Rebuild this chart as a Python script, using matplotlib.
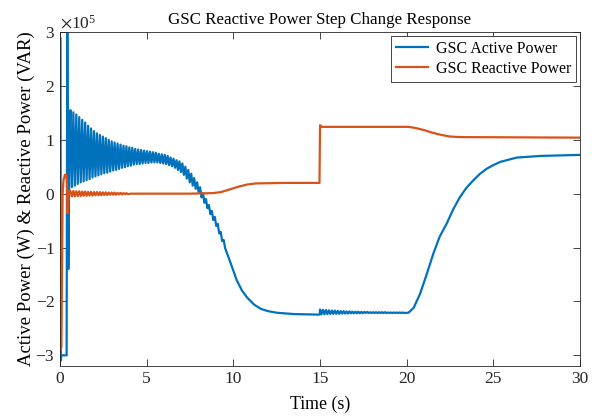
import numpy as np
import matplotlib
matplotlib.use("Agg")
import matplotlib.pyplot as plt

plt.rcParams['font.family'] = ['Liberation Serif', 'DejaVu Serif']
plt.rcParams['mathtext.fontset'] = 'stix'
plt.rcParams['axes.unicode_minus'] = False

SCALE = 1e5  # values below are read in units of 1e5

# ---- GSC active power (blue) ----
# start-up transient
p_start_t = [0.0, 0.01, 0.05, 0.08, 0.38, 0.42, 0.48, 0.55]
p_start_v = [0.0, 2.90, -3.10, -3.00, -3.00, 3.30, -1.40, 1.00]

# oscillation peaks (period ~0.17 s) starting at 0.60 s
osc_t0 = 0.60
osc_period = 0.17
p_osc_hi = [1.55, 1.51, 1.47, 1.42, 1.37, 1.32, 1.26, 1.21, 1.16, 1.12,
            1.09, 1.06, 1.03, 1.00, 0.97, 0.95, 0.93, 0.91, 0.89, 0.88,
            0.86, 0.85, 0.83, 0.82, 0.81, 0.80, 0.79, 0.78, 0.77, 0.76,
            0.74, 0.73, 0.72, 0.70, 0.67, 0.65, 0.62, 0.60, 0.56, 0.50,
            0.44, 0.37, 0.29, 0.21, 0.12, 0.01, -0.10, -0.21, -0.32, -0.43,
            -0.56, -0.71, -0.86]
p_osc_lo = [0.12, 0.15, 0.18, 0.21, 0.23, 0.25, 0.27, 0.30, 0.32, 0.34,
            0.36, 0.38, 0.39, 0.41, 0.43, 0.44, 0.46, 0.48, 0.49, 0.51,
            0.52, 0.54, 0.55, 0.55, 0.56, 0.57, 0.57, 0.58, 0.58, 0.58,
            0.57, 0.56, 0.55, 0.53, 0.51, 0.48, 0.44, 0.40, 0.35, 0.28,
            0.21, 0.15, 0.09, 0.03, -0.07, -0.17, -0.27, -0.38, -0.49, -0.60,
            -0.74, -0.88, -1.01]

# decline to the plateau
p_mid_t = [9.8, 10.2, 10.5, 10.8, 11.2, 11.6, 12.0, 12.5, 13.5, 14.98]
p_mid_v = [-1.25, -1.61, -1.80, -1.93, -2.06, -2.14, -2.18, -2.21, -2.235, -2.245]

# ripple after the reactive step at 15 s
rip_t0 = 15.0
p_rip_hi = [-2.15, -2.155, -2.16, -2.165, -2.17, -2.17, -2.175, -2.18, -2.18, -2.185,
            -2.185, -2.19, -2.19, -2.19, -2.195, -2.195, -2.195, -2.20, -2.20, -2.20,
            -2.20, -2.20, -2.20, -2.205, -2.205, -2.205, -2.205, -2.205, -2.205]
p_rip_lo = [-2.24, -2.24, -2.235, -2.235, -2.23, -2.23, -2.23, -2.225, -2.225, -2.225,
            -2.22, -2.22, -2.22, -2.22, -2.22, -2.215, -2.215, -2.215, -2.215, -2.215,
            -2.215, -2.215, -2.215, -2.215, -2.215, -2.215, -2.215, -2.215, -2.215]

# recovery after 20 s
p_end_t = [20.1, 20.4, 20.77, 21.15, 21.54, 21.9, 22.3, 22.7, 23.08, 23.45,
           23.85, 24.2, 24.6, 25.0, 25.4, 26.35, 27.7, 30.0]
p_end_v = [-2.21, -2.12, -1.86, -1.50, -1.11, -0.80, -0.56, -0.28, -0.06, 0.11,
           0.25, 0.36, 0.46, 0.53, 0.59, 0.67, 0.70, 0.72]

# ---- GSC reactive power (orange) ----
q_start_t = [0.0, 0.02, 0.08, 0.15, 0.20, 0.28, 0.36, 0.40, 0.44, 0.48, 0.55]
q_start_v = [0.0, -2.90, -2.85, 0.0, 0.25, 0.35, 0.35, 0.20, -0.37, -0.05, 0.06]

q_osc_hi = [0.05, 0.05, 0.045, 0.045, 0.04, 0.04, 0.035, 0.035, 0.03, 0.03,
            0.03, 0.025, 0.025, 0.02, 0.02, 0.02, 0.015, 0.015, 0.01, 0.01]
q_osc_lo = [-0.05, -0.05, -0.045, -0.045, -0.04, -0.04, -0.035, -0.035, -0.03, -0.03,
            -0.03, -0.025, -0.025, -0.02, -0.02, -0.02, -0.015, -0.015, -0.01, -0.01]

q_end_t = [4.1, 7.5, 8.8, 9.3, 9.8, 10.3, 10.8, 11.3, 13.0, 14.97,
           15.0, 15.1, 20.1, 20.5, 21.0, 21.5, 22.0, 22.5, 23.1, 30.0]
q_end_v = [0.0, 0.0, 0.01, 0.03, 0.08, 0.13, 0.17, 0.19, 0.20, 0.20,
           1.27, 1.24, 1.24, 1.22, 1.18, 1.13, 1.09, 1.06, 1.05, 1.04]


def zigzag(t0, period, hi, lo):
    t, v = [], []
    for k in range(len(hi)):
        t += [t0 + k * period, t0 + k * period + period / 2]
        v += [hi[k], lo[k]]
    return t, v


ot, ov = zigzag(osc_t0, osc_period, p_osc_hi, p_osc_lo)
rt, rv = zigzag(rip_t0, osc_period, p_rip_hi, p_rip_lo)
p_t = np.array(p_start_t + ot + p_mid_t + rt + p_end_t)
p_v = np.array(p_start_v + ov + p_mid_v + rv + p_end_v) * SCALE

qt, qv = zigzag(osc_t0, osc_period, q_osc_hi, q_osc_lo)
q_t = np.array(q_start_t + qt + q_end_t)
q_v = np.array(q_start_v + qv + q_end_v) * SCALE

fig = plt.figure(figsize=(5.96, 4.16), dpi=100)
ax = fig.add_axes([0.1007, 0.120, 0.8725, 0.803])

ax.plot(p_t, p_v, color='#0072BD', lw=1.6, label='GSC Active Power')
ax.plot(q_t, q_v, color='#D95319', lw=1.6, label='GSC Reactive Power')

ax.set_xlim(0, 30)
ax.set_ylim(-3.2e5, 3e5)
ax.set_xticks([0, 5, 10, 15, 20, 25, 30])
ax.set_yticks(np.arange(-3, 4) * 1e5)
ax.ticklabel_format(axis='y', style='sci', scilimits=(0, 0), useMathText=True)
ax.yaxis.get_offset_text().set_fontsize(12.5)
ax.yaxis.get_offset_text().set_color('#262626')

ax.tick_params(direction='in', top=True, right=True, labelsize=12.5,
               colors='#262626', length=5, width=0.6)
for s in ax.spines.values():
    s.set_color('#262626')
    s.set_linewidth(0.6)

ax.set_title('GSC Reactive Power Step Change Response', fontsize=12.2, pad=6)
ax.set_xlabel('Time (s)', fontsize=12.9, labelpad=6)
ax.set_ylabel('Active Power (W) & Reactive Power (VAR)', fontsize=13.5, labelpad=0)

leg = ax.legend(loc='upper right', fontsize=11.5, fancybox=False, framealpha=1,
                edgecolor='#262626', borderpad=0.3, handlelength=2.0,
                handletextpad=0.5, labelspacing=0.25, borderaxespad=0.25)
leg.get_frame().set_linewidth(0.6)

fig.savefig('out.png', dpi=100)
